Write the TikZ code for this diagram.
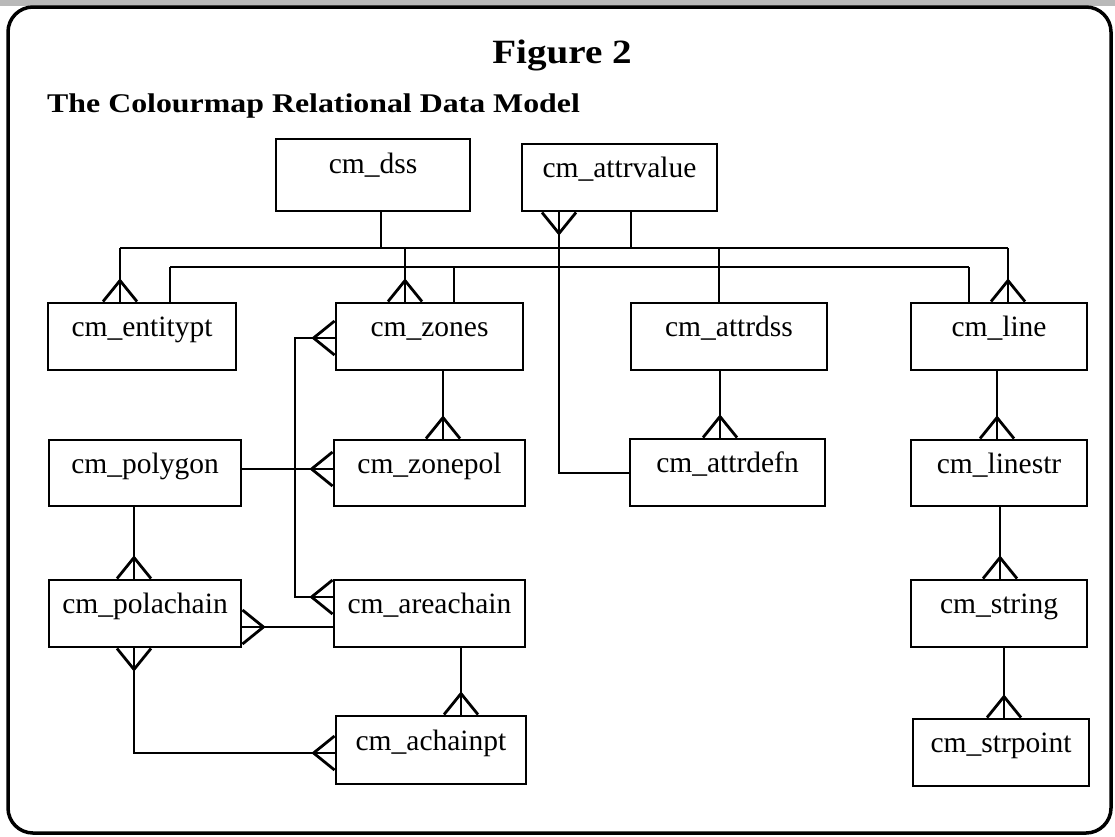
\documentclass[tikz,border=0pt]{standalone}
\usepackage{fontspec}
\setmainfont{Liberation Serif}
\newfontfamily\titlefont{Liberation Serif}[FakeStretch=1.15]
\newfontfamily\subfont{Liberation Serif}[FakeStretch=1.18]
\tikzset{
  box/.style={draw, line width=2.9pt, inner sep=0pt, text height=20pt, text depth=20pt,
    font=\fontsize{29.5}{34}\selectfont},
  conn/.style={line width=2.8pt},
  crow/.pic={\draw[conn] (-17,0) -- (0,-21) -- (17,0);}
}
\begin{document}
\begin{tikzpicture}[x=1pt,y=-1pt]
\useasboundingbox (0,0) rectangle (1115,836);
% frame
\fill[gray!55] (0,0) rectangle (1115,6);
\draw[line width=3.5pt, rounded corners=25pt] (8,7) rectangle (1111,833);
% titles
\node[anchor=base, inner sep=0pt, font=\titlefont\bfseries\fontsize{34}{40}\selectfont] (title) at (562,63) {Figure 2};
\node[anchor=base west, inner sep=0pt, font=\subfont\bfseries\fontsize{27}{32}\selectfont] (sub) at (47,112) {The Colourmap Relational Data Model};
% boxes
\node[box, minimum width=194pt, minimum height=72pt, text depth=24pt] (dss) at (373,175) {cm\_dss};
\node[box, minimum width=195pt, minimum height=67pt] (av) at (619.5,177.5) {cm\_attrvalue};
\node[box, minimum width=188pt, minimum height=67pt] (ent) at (142,336.5) {cm\_entitypt};
\node[box, minimum width=187pt, minimum height=67pt] (zones) at (429.5,336.5) {cm\_zones};
\node[box, minimum width=196pt, minimum height=67pt] (ads) at (729,336.5) {cm\_attrdss};
\node[box, minimum width=176pt, minimum height=67pt] (line) at (999,336.5) {cm\_line};
\node[box, minimum width=192pt, minimum height=66pt] (poly) at (145,473) {cm\_polygon};
\node[box, minimum width=191pt, minimum height=66pt] (zp) at (429.5,473) {cm\_zonepol};
\node[box, minimum width=195pt, minimum height=67pt] (adf) at (727.5,472.5) {cm\_attrdefn};
\node[box, minimum width=176pt, minimum height=66pt] (lstr) at (999,473) {cm\_linestr};
\node[box, minimum width=192pt, minimum height=67pt] (pc) at (145,613.5) {cm\_polachain};
\node[box, minimum width=191pt, minimum height=67pt] (area) at (429.5,613.5) {cm\_areachain};
\node[box, minimum width=176pt, minimum height=67pt] (str) at (999,613.5) {cm\_string};
\node[box, minimum width=190pt, minimum height=68pt] (ach) at (431,750) {cm\_achainpt};
\node[box, minimum width=176pt, minimum height=67pt] (sp) at (1001,752.5) {cm\_strpoint};
% buses
\coordinate (b1L) at (120,248);
\coordinate (b1R) at (1008,248);
\coordinate (b2L) at (170,267);
\coordinate (b2R) at (969,267);
\coordinate (j1) at (405,248);
\coordinate (j2) at (454,267);
\coordinate (j4) at (719,248);
\draw[conn] (b1L) -- (b1R);
\draw[conn] (b2L) -- (b2R);
\draw[conn] ([xshift=8pt]dss.south) coordinate (d1) -- (d1 |- b1L);
\draw[conn] ([xshift=11.5pt]av.south) coordinate (a1) -- (a1 |- b1L);
\draw[conn] (b1L) -- (b1L |- ent.north);
\pic at (b1L |- ent.north) {crow};
\draw[conn] (b2L) -- (b2L |- ent.north);
\draw[conn] (j1) -- (j1 |- zones.north);
\pic at (j1 |- zones.north) {crow};
\draw[conn] (j2) -- (j2 |- zones.north);
\draw[conn] (j4) -- (j4 |- ads.north);
\draw[conn] (b1R) -- (b1R |- line.north);
\pic at (b1R |- line.north) {crow};
\draw[conn] (b2R) -- (b2R |- line.north);
% attrvalue - attrdefn
\coordinate (v1) at (559,473);
\draw[conn] (v1 |- av.south) -- (v1) -- (v1 -| adf.west);
\pic[rotate=180] at (v1 |- av.south) {crow};
% zones - areachain
\coordinate (v2) at (295,338);
\coordinate (v3) at (295,597);
\draw[conn] (v2 -| zones.west) -- (v2) -- (v3) -- (v3 -| area.west);
\pic[rotate=90] at (v2 -| zones.west) {crow};
\pic[rotate=90] at (v3 -| area.west) {crow};
% zones - zonepol
\draw[conn] ([xshift=13.5pt]zones.south) coordinate (z1) -- (z1 |- zp.north);
\pic at (z1 |- zp.north) {crow};
% polygon - zonepol
\draw[conn] ([yshift=4pt]poly.east) coordinate (p1) -- (p1 -| zp.west);
\pic[rotate=90] at (p1 -| zp.west) {crow};
% polygon - polachain
\draw[conn] ([xshift=-11pt]poly.south) coordinate (p2) -- (p2 |- pc.north);
\pic at (p2 |- pc.north) {crow};
% polachain - areachain
\draw[conn] ([yshift=-13.5pt]pc.east) coordinate (p3) -- (p3 -| area.west);
\pic[rotate=-90] at (p3) {crow};
% polachain - achainpt
\coordinate (v4) at (134,753);
\draw[conn] (v4 |- pc.south) -- (v4) -- (v4 -| ach.west);
\pic[rotate=180] at (v4 |- pc.south) {crow};
\pic[rotate=90] at (v4 -| ach.west) {crow};
% areachain - achainpt
\draw[conn] ([xshift=31.5pt]area.south) coordinate (r1) -- (r1 |- ach.north);
\pic at (r1 |- ach.north) {crow};
% attrdss - attrdefn
\draw[conn] ([xshift=-9pt]ads.south) coordinate (t2) -- (t2 |- adf.north);
\pic at (t2 |- adf.north) {crow};
% line - linestr - string - strpoint
\draw[conn] ([xshift=-2pt]line.south) coordinate (l1) -- (l1 |- lstr.north);
\pic at (l1 |- lstr.north) {crow};
\draw[conn] ([xshift=1pt]lstr.south) coordinate (l2) -- (l2 |- str.north);
\pic at (l2 |- str.north) {crow};
\draw[conn] ([xshift=5pt]str.south) coordinate (l3) -- (l3 |- sp.north);
\pic at (l3 |- sp.north) {crow};
\end{tikzpicture}
\end{document}
